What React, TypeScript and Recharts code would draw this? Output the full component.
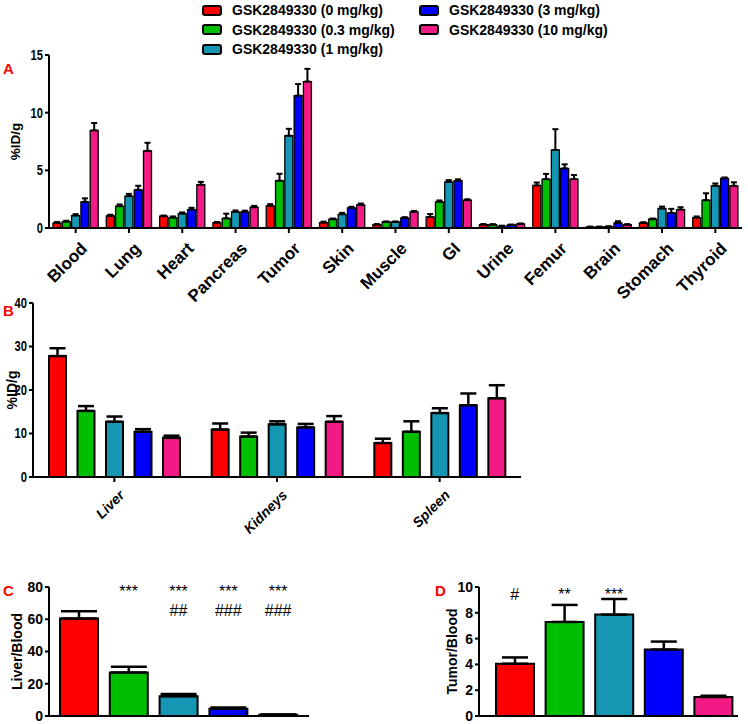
import React from "react";
import { Bar, BarChart, Cell, ErrorBar, Legend, ReferenceDot, XAxis, YAxis } from "recharts";

const doses = ["GSK2849330 (0 mg/kg)", "GSK2849330 (0.3 mg/kg)", "GSK2849330 (1 mg/kg)", "GSK2849330 (3 mg/kg)", "GSK2849330 (10 mg/kg)"];
const doseKeys = ["0", "0.3", "1", "3", "10"];
const doseColors = ["#ff0000", "#00bf00", "#1597b3", "#0000ff", "#f21b85"];

// panel A - biodistribution, %ID/g
const organs = ["Blood", "Lung", "Heart", "Pancreas", "Tumor", "Skin", "Muscle", "GI", "Urine", "Femur", "Brain", "Stomach", "Thyroid"];
const organ0 = [0.44, 1.05, 1.02, 0.47, 1.92, 0.47, 0.29, 0.96, 0.29, 3.69, 0.09, 0.44, 0.9];
const organ0Err = [0.08, 0.1, 0.06, 0.05, 0.15, 0.08, 0.05, 0.25, 0.05, 0.25, 0.03, 0.06, 0.1];
const organ03 = [0.55, 1.89, 0.9, 0.84, 4.1, 0.76, 0.52, 2.27, 0.29, 4.24, 0.09, 0.76, 2.41];
const organ03Err = [0.08, 0.15, 0.1, 0.4, 0.6, 0.06, 0.05, 0.12, 0.04, 0.45, 0.03, 0.06, 0.6];
const organ1 = [1.08, 2.76, 1.25, 1.4, 8.0, 1.19, 0.52, 4.0, 0.17, 6.77, 0.12, 1.69, 3.66];
const organ1Err = [0.12, 0.2, 0.1, 0.12, 0.6, 0.12, 0.05, 0.15, 0.03, 1.8, 0.03, 0.17, 0.2];
const organ3 = [2.27, 3.31, 1.6, 1.4, 11.48, 1.74, 0.87, 4.1, 0.26, 5.17, 0.44, 1.31, 4.3];
const organ3Err = [0.3, 0.35, 0.15, 0.1, 1.0, 0.1, 0.07, 0.12, 0.04, 0.35, 0.15, 0.35, 0.08];
const organ10 = [8.46, 6.69, 3.75, 1.8, 12.7, 2.0, 1.4, 2.41, 0.35, 4.24, 0.29, 1.6, 3.66];
const organ10Err = [0.64, 0.7, 0.25, 0.12, 1.1, 0.12, 0.08, 0.08, 0.04, 0.35, 0.04, 0.2, 0.3];

// panel B - clearance organs
const clearOrgans = ["Liver", "Kidneys", "Spleen"];
const clear0 = [27.8, 10.9, 7.8];
const clear0Err = [1.8, 1.4, 1.0];
const clear03 = [15.2, 9.3, 10.4];
const clear03Err = [1.1, 0.9, 2.4];
const clear1 = [12.7, 12.1, 14.7];
const clear1Err = [1.2, 0.7, 1.1];
const clear3 = [10.4, 11.4, 16.5];
const clear3Err = [0.6, 0.8, 2.7];
const clear10 = [9.0, 12.7, 18.1];
const clear10Err = [0.5, 1.3, 3.0];

// panel C / D - ratios
const liverBlood = [60.4, 27.0, 12.2, 4.5, 0.8];
const liverBloodErr = [4.5, 3.5, 1.4, 0.7, 0.15];
const starsC = ["", "***", "***", "***", "***"];
const hashC = ["", "", "##", "###", "###"];
const tumorBlood = [4.05, 7.29, 7.86, 5.15, 1.47];
const tumorBloodErr = [0.49, 1.32, 1.21, 0.62, 0.1];
const starsD = ["", "**", "***", "", ""];
const hashD = ["#", "", "", "", ""];

const sans = '"Liberation Sans", Arial, sans-serif';
const axisStroke = { stroke: "#000", strokeWidth: 2 };

const groupRows = (cats: string[], key: string, vals: number[][], errs: number[][]) =>
  cats.map((c, i) => {
    const row: Record<string, any> = { [key]: c };
    vals.forEach((v, s) => {
      row[`v${s}`] = v[i];
      row[`e${s}`] = [0, errs[s][i]];
    });
    return row;
  });

const organRows = groupRows(organs, "organ", [organ0, organ03, organ1, organ3, organ10], [organ0Err, organ03Err, organ1Err, organ3Err, organ10Err]);
const clearRows = groupRows(clearOrgans, "organ", [clear0, clear03, clear1, clear3, clear10], [clear0Err, clear03Err, clear1Err, clear3Err, clear10Err]);
const liverRows = doseKeys.map((d, i) => ({ dose: d, value: liverBlood[i], err: [0, liverBloodErr[i]] }));
const tumorRows = doseKeys.map((d, i) => ({ dose: d, value: tumorBlood[i], err: [0, tumorBloodErr[i]] }));

const OrganTick = ({ x, y, payload }: any) => (
  <g transform={`translate(${x + 4},${y + 6})`}>
    <text textAnchor="end" transform="rotate(-45)" dy="0.71em" fontSize={17} fontWeight={700} fontFamily={sans} fill="#000">
      {payload.value}
    </text>
  </g>
);

const ClearTick = ({ x, y, payload }: any) => (
  <g transform={`translate(${x + 4},${y + 5})`}>
    <text textAnchor="end" transform="rotate(-45)" dy="0.71em" fontSize={14} fontWeight={700} fontStyle="italic" fontFamily={sans} fill="#000">
      {payload.value}
    </text>
  </g>
);

// condensed bold numbers on the A/B value axes
const NarrowTick = ({ x, y, payload }: any) => (
  <text
    x={x}
    y={y}
    dy="0.355em"
    textAnchor="end"
    transform={`translate(${x} ${y}) scale(0.8 1) translate(${-x} ${-y})`}
    fontSize={14}
    fontWeight={700}
    fontFamily={sans}
    fill="#000"
  >
    {payload.value}
  </text>
);

const DoseLegend = ({ payload }: any) => (
  <div
    style={{
      display: "grid",
      gridAutoFlow: "column",
      gridTemplateRows: "repeat(3, 19.5px)",
      gridTemplateColumns: "217px auto",
      fontFamily: sans,
      fontSize: 14,
      fontWeight: 700,
      color: "#000",
    }}
  >
    {(payload || []).map((entry: any) => (
      <div key={entry.value} style={{ display: "flex", alignItems: "center" }}>
        <span style={{ width: 16, height: 7, border: "2px solid #000", borderRadius: 3, background: entry.color, marginRight: 10 }} />
        <span>{entry.value}</span>
      </div>
    ))}
  </div>
);

const yLabel = (value: string, offset: number, size: number, weight: number) => ({
  value,
  angle: -90,
  position: "insideLeft" as const,
  offset,
  style: { textAnchor: "middle", fontSize: size, fontWeight: weight, fontFamily: sans, fill: "#000" },
});

const wideTick = { fill: "#000", fontSize: 14, fontWeight: 700, fontFamily: sans };
const markStyle = { fontSize: 16, fontFamily: sans, fill: "#000" };

const PanelLetter = ({ letter, left, top }: { letter: string; left: number; top: number }) => (
  <div style={{ position: "absolute", left, top, color: "#ff0000", fontFamily: sans, fontWeight: 700, fontSize: 15, lineHeight: "15px" }}>{letter}</div>
);

export default function App() {
  return (
    <div style={{ position: "absolute", left: 0, top: 0, width: 748, height: 724, background: "#fff", overflow: "hidden" }}>
      <div style={{ position: "absolute", left: 0, top: 0 }}>
        <BarChart width={748} height={320} data={organRows} margin={{ top: 55, right: 6, bottom: 12, left: 0 }} barSize={8} barGap={1.3}>
          <XAxis dataKey="organ" height={80} interval={0} axisLine={axisStroke} tickLine={axisStroke} tickSize={5} tick={<OrganTick />} />
          <YAxis width={49} domain={[0, 15]} ticks={[0, 5, 10, 15]} axisLine={axisStroke} tickLine={axisStroke} tickSize={4} tick={<NarrowTick />} label={yLabel("%ID/g", 15, 13.5, 700)} />
          <Legend content={<DoseLegend />} itemSorter="dataKey" layout="vertical" verticalAlign="middle" align="center" wrapperStyle={{ top: 0.5, left: 202, width: 450 }} />
          {doses.map((d, i) => (
            <Bar key={d} dataKey={`v${i}`} name={d} fill={doseColors[i]} stroke="#000" strokeWidth={1.3} isAnimationActive={false}>
              <ErrorBar dataKey={`e${i}`} width={3} strokeWidth={2} stroke="#000" direction="y" isAnimationActive={false} />
            </Bar>
          ))}
        </BarChart>
      </div>

      <div style={{ position: "absolute", left: 0, top: 290 }}>
        <BarChart width={560} height={262} data={clearRows} margin={{ top: 13, right: 39, bottom: 8, left: 0 }} barSize={17} barGap={11.5}>
          <XAxis dataKey="organ" height={67} interval={0} axisLine={axisStroke} tickLine={axisStroke} tickSize={5} tick={<ClearTick />} />
          <YAxis width={33} domain={[0, 40]} ticks={[0, 10, 20, 30, 40]} axisLine={axisStroke} tickLine={axisStroke} tickSize={4} tick={<NarrowTick />} label={yLabel("%ID/g", 12, 14, 700)} />
          {doses.map((d, i) => (
            <Bar key={d} dataKey={`v${i}`} name={d} fill={doseColors[i]} stroke="#000" strokeWidth={2} isAnimationActive={false}>
              <ErrorBar dataKey={`e${i}`} width={8} strokeWidth={2.5} stroke="#000" direction="y" isAnimationActive={false} />
            </Bar>
          ))}
        </BarChart>
      </div>

      <div style={{ position: "absolute", left: 0, top: 570 }}>
        <BarChart width={330} height={154} data={liverRows} margin={{ top: 17, right: 21, bottom: 0, left: 0 }} barSize={38}>
          <XAxis dataKey="dose" height={8} axisLine={axisStroke} tickLine={false} tick={false} padding={{ left: 5, right: 6 }} />
          <YAxis width={49} domain={[0, 80]} ticks={[0, 20, 40, 60, 80]} axisLine={axisStroke} tickLine={axisStroke} tickSize={4} tick={wideTick} label={yLabel("Liver/Blood", 17.5, 14, 700)} />
          <Bar dataKey="value" stroke="#000" strokeWidth={2} isAnimationActive={false}>
            {liverRows.map((r, i) => (
              <Cell key={r.dose} fill={doseColors[i]} />
            ))}
            <ErrorBar dataKey="err" width={18} strokeWidth={2.5} stroke="#000" direction="y" isAnimationActive={false} />
          </Bar>
          {doseKeys.map((d, i) =>
            starsC[i] ? <ReferenceDot key={`s${d}`} x={d} y={77.5} r={0} fill="none" stroke="none" label={{ value: starsC[i], position: "center", style: markStyle }} /> : null
          )}
          {doseKeys.map((d, i) =>
            hashC[i] ? <ReferenceDot key={`h${d}`} x={d} y={65.8} r={0} fill="none" stroke="none" label={{ value: hashC[i], position: "center", style: markStyle }} /> : null
          )}
        </BarChart>
      </div>

      <div style={{ position: "absolute", left: 430, top: 570 }}>
        <BarChart width={318} height={154} data={tumorRows} margin={{ top: 17, right: 10, bottom: 0, left: 0 }} barSize={38}>
          <XAxis dataKey="dose" height={8} axisLine={axisStroke} tickLine={false} tick={false} padding={{ left: 11, right: 0 }} />
          <YAxis width={49} domain={[0, 10]} ticks={[0, 2, 4, 6, 8, 10]} axisLine={axisStroke} tickLine={axisStroke} tickSize={4} tick={wideTick} label={yLabel("Tumor/Blood", 22, 14, 700)} />
          <Bar dataKey="value" stroke="#000" strokeWidth={2} isAnimationActive={false}>
            {tumorRows.map((r, i) => (
              <Cell key={r.dose} fill={doseColors[i]} />
            ))}
            <ErrorBar dataKey="err" width={13} strokeWidth={2.5} stroke="#000" direction="y" isAnimationActive={false} />
          </Bar>
          {doseKeys.map((d, i) =>
            starsD[i] ? <ReferenceDot key={`s${d}`} x={d} y={9.4} r={0} fill="none" stroke="none" label={{ value: starsD[i], position: "center", style: markStyle }} /> : null
          )}
          {doseKeys.map((d, i) =>
            hashD[i] ? <ReferenceDot key={`h${d}`} x={d} y={9.45} r={0} fill="none" stroke="none" label={{ value: hashD[i], position: "center", style: markStyle }} /> : null
          )}
        </BarChart>
      </div>

      <PanelLetter letter="A" left={3} top={61} />
      <PanelLetter letter="B" left={3} top={303} />
      <PanelLetter letter="C" left={3} top={583} />
      <PanelLetter letter="D" left={435} top={583} />
    </div>
  );
}
